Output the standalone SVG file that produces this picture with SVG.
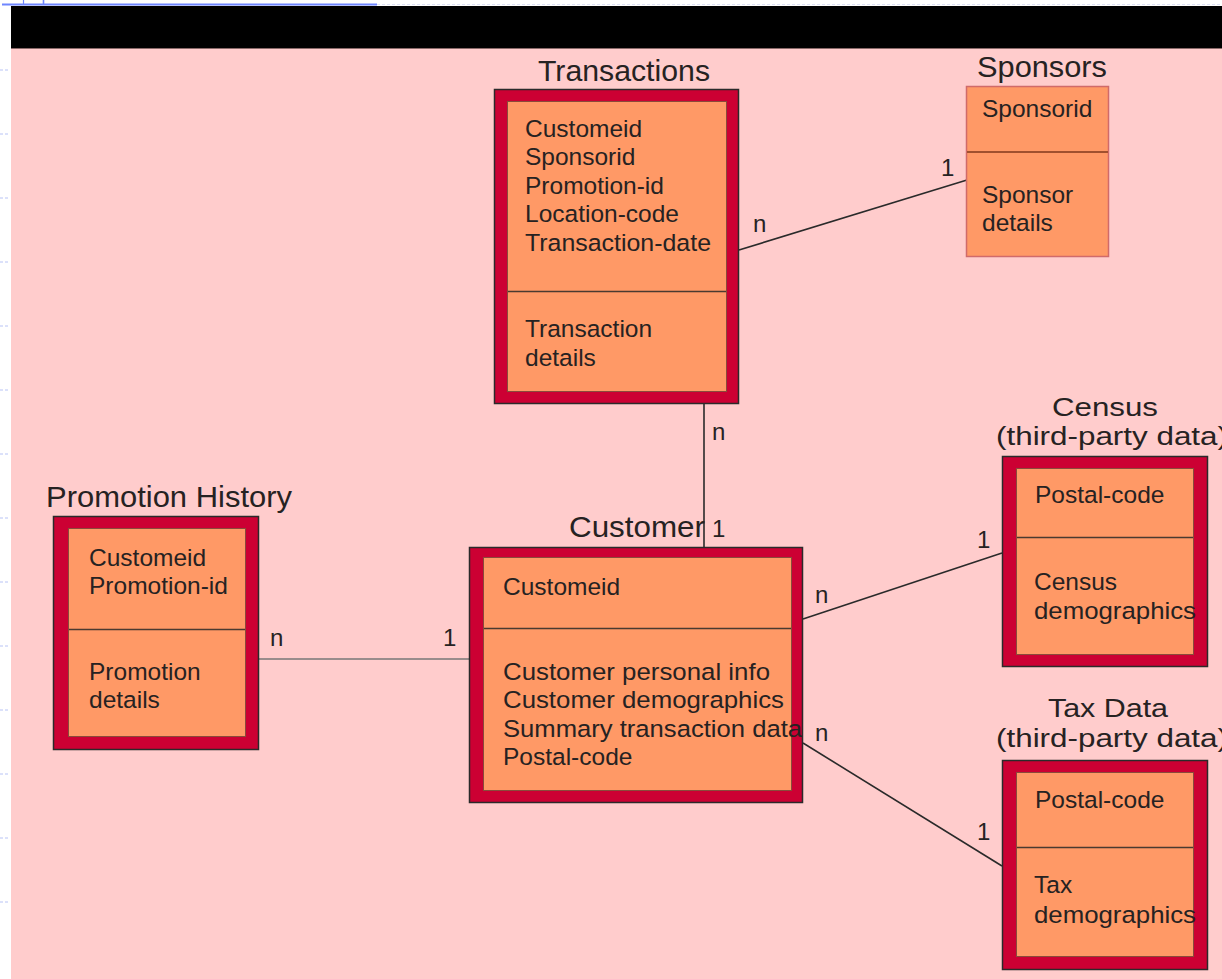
<svg xmlns="http://www.w3.org/2000/svg" width="1222" height="979" viewBox="0 0 1222 979">
<style>
text{font-family:"Liberation Sans",Arial,sans-serif;fill:#262222}
.t{font-size:29px}
.t2{font-size:26.5px}
.b{font-size:24.5px}
.l{font-size:24px}
.outer{fill:#CC0033;stroke:#2a2a2a;stroke-width:1.5}
.inner{fill:#FF9966;stroke:#8a4a3a;stroke-width:1}
.div{stroke:#4a3a30;stroke-width:1.6}
.con{stroke:#2a2a2a;stroke-width:1.6;fill:none}
</style>
<rect x="0" y="0" width="1222" height="979" fill="#ffffff"/>
<g id="chrome">
<line x1="377" y1="4.5" x2="1222" y2="4.5" stroke="#dde0f5" stroke-width="1" stroke-dasharray="3,2"/>
<line x1="2" y1="4.5" x2="377" y2="4.5" stroke="#6f86ff" stroke-width="2.2"/>
<line x1="23.5" y1="0" x2="23.5" y2="4" stroke="#6f86ff" stroke-width="1.2"/>
<line x1="43.5" y1="0" x2="43.5" y2="4" stroke="#6f86ff" stroke-width="1.6"/>
<g stroke="#b8c3f5" stroke-width="1" fill="none">
<path d="M0 70 h3 M5 70 h3 M0 134 h3 M5 134 h3 M0 198 h3 M5 198 h3 M0 262 h3 M5 262 h3 M0 326 h3 M5 326 h3 M0 390 h3 M5 390 h3 M0 454 h3 M5 454 h3 M0 518 h3 M5 518 h3 M0 582 h3 M5 582 h3 M0 646 h3 M5 646 h3 M0 710 h3 M5 710 h3 M0 774 h3 M5 774 h3 M0 838 h3 M5 838 h3 M0 902 h3 M5 902 h3"/>
</g>
<rect x="11" y="6" width="1211" height="43" fill="#000000"/>
<rect x="11" y="49" width="1211" height="930" fill="#FFCCCC"/>
<line x1="11" y1="48.5" x2="1222" y2="48.5" stroke="#8a6a6a" stroke-width="1"/>
</g>
<g id="connectors">
<line class="con" x1="739" y1="250" x2="967" y2="180"/>
<line class="con" x1="704" y1="404" x2="704" y2="547"/>
<line x1="259" y1="659" x2="469" y2="659" stroke="#777" stroke-width="1.3"/>
<line class="con" x1="803" y1="619" x2="1002" y2="553"/>
<line class="con" x1="803" y1="743" x2="1002" y2="866"/>
<g class="labels">
<text class="l" x="753" y="232">n</text>
<text class="l" x="941" y="176">1</text>
<text class="l" x="712" y="440">n</text>
<text class="l" x="712" y="537">1</text>
<text class="l" x="270" y="646">n</text>
<text class="l" x="443" y="646">1</text>
<text class="l" x="815" y="603">n</text>
<text class="l" x="977" y="548">1</text>
<text class="l" x="815" y="741">n</text>
<text class="l" x="977" y="840">1</text>
</g>
</g>
<g id="transactions">
<text class="t" x="538" y="81" textLength="172" lengthAdjust="spacingAndGlyphs">Transactions</text>
<rect class="outer" x="494.5" y="89.5" width="244" height="314"/>
<rect class="inner" x="507.5" y="101.5" width="219" height="290"/>
<line class="div" x1="508" y1="291.5" x2="726" y2="291.5"/>
<text class="b" x="525" y="137">Customeid</text>
<text class="b" x="525" y="165">Sponsorid</text>
<text class="b" x="525" y="194">Promotion-id</text>
<text class="b" x="525" y="222">Location-code</text>
<text class="b" x="525" y="251" textLength="186" lengthAdjust="spacingAndGlyphs">Transaction-date</text>
<text class="b" x="525" y="337">Transaction</text>
<text class="b" x="525" y="366">details</text>
</g>
<g id="sponsors">
<text class="t" x="977" y="77" textLength="130" lengthAdjust="spacingAndGlyphs">Sponsors</text>
<rect x="966.5" y="86.5" width="142" height="170" fill="#FF9966" stroke="#d06a6a" stroke-width="1.5"/>
<line x1="967" y1="152" x2="1108" y2="152" stroke="#a0502e" stroke-width="2"/>
<text class="b" x="982" y="117">Sponsorid</text>
<text class="b" x="982" y="203">Sponsor</text>
<text class="b" x="982" y="231">details</text>
</g>
<g id="promotion-history">
<text class="t" x="46" y="507" textLength="246" lengthAdjust="spacingAndGlyphs">Promotion History</text>
<rect class="outer" x="53.5" y="516.5" width="205" height="233"/>
<rect class="inner" x="68.5" y="528.5" width="177" height="208"/>
<line class="div" x1="69" y1="629.5" x2="245" y2="629.5"/>
<text class="b" x="89" y="566">Customeid</text>
<text class="b" x="89" y="594">Promotion-id</text>
<text class="b" x="89" y="680">Promotion</text>
<text class="b" x="89" y="708">details</text>
</g>
<g id="customer">
<text class="t" x="569" y="537" textLength="136" lengthAdjust="spacingAndGlyphs">Customer</text>
<rect class="outer" x="469.5" y="547.5" width="333" height="255"/>
<rect class="inner" x="483.5" y="557.5" width="308" height="233"/>
<line class="div" x1="484" y1="628.5" x2="791" y2="628.5"/>
<text class="b" x="503" y="595">Customeid</text>
<text class="b" x="503" y="680" textLength="267" lengthAdjust="spacingAndGlyphs">Customer personal info</text>
<text class="b" x="503" y="708" textLength="281" lengthAdjust="spacingAndGlyphs">Customer demographics</text>
<text class="b" x="503" y="737" textLength="299" lengthAdjust="spacingAndGlyphs">Summary transaction data</text>
<text class="b" x="503" y="765">Postal-code</text>
</g>
<g id="census">
<text class="t2" x="1052" y="416" textLength="106" lengthAdjust="spacingAndGlyphs">Census</text>
<text class="t2" x="996" y="445" textLength="232" lengthAdjust="spacingAndGlyphs">(third-party data)</text>
<rect class="outer" x="1002.5" y="456.5" width="205" height="210"/>
<rect class="inner" x="1016.5" y="468.5" width="177" height="186"/>
<line class="div" x1="1017" y1="537.5" x2="1193" y2="537.5"/>
<text class="b" x="1035" y="503">Postal-code</text>
<text class="b" x="1034" y="590">Census</text>
<text class="b" x="1034" y="619" textLength="162" lengthAdjust="spacingAndGlyphs">demographics</text>
</g>
<g id="tax-data">
<text class="t2" x="1048" y="717" textLength="120" lengthAdjust="spacingAndGlyphs">Tax Data</text>
<text class="t2" x="996" y="747" textLength="232" lengthAdjust="spacingAndGlyphs">(third-party data)</text>
<rect class="outer" x="1002.5" y="760.5" width="205" height="209"/>
<rect class="inner" x="1016.5" y="772.5" width="177" height="184"/>
<line class="div" x1="1017" y1="847.5" x2="1193" y2="847.5"/>
<text class="b" x="1035" y="808">Postal-code</text>
<text class="b" x="1034" y="893">Tax</text>
<text class="b" x="1034" y="923" textLength="162" lengthAdjust="spacingAndGlyphs">demographics</text>
</g>
</svg>
